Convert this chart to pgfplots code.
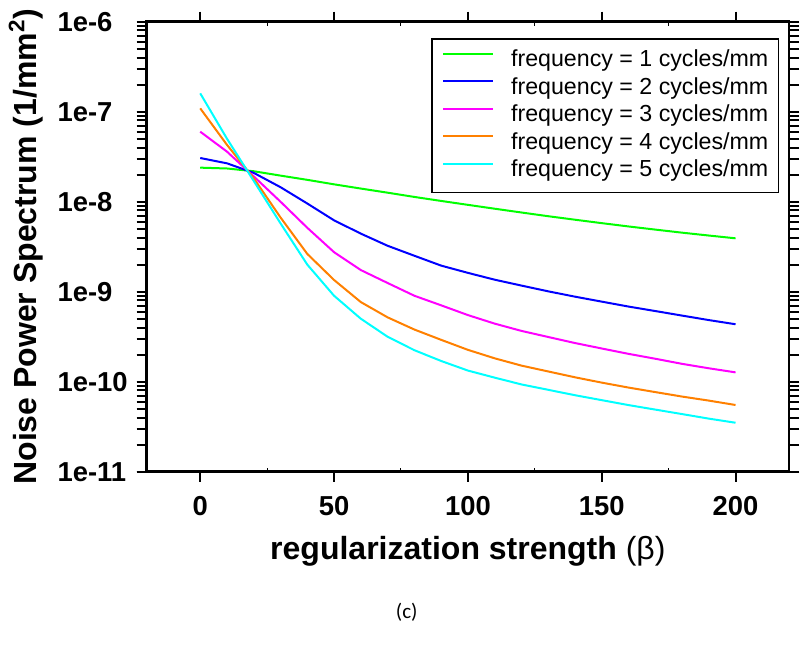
\documentclass[border=0pt]{standalone}
\usepackage{fontspec}
\setmainfont{Liberation Sans}
\newfontfamily\calibri{Carlito}
\usepackage{pgfplots}
\usepackage{pgfplotstable}
\pgfplotsset{compat=1.18}
\definecolor{cgreen}{RGB}{0,255,0}
\definecolor{cblue}{RGB}{0,0,255}
\definecolor{cmag}{RGB}{255,0,255}
\definecolor{corange}{RGB}{255,128,0}
\definecolor{ccyan}{RGB}{0,255,255}

\pgfplotstableread{
x f1 f2 f3 f4 f5
0   2.39e-8 3.06e-8 6.00e-8 1.09e-7 1.60e-7
10  2.34e-8 2.67e-8 3.60e-8 4.28e-8 5.01e-8
20  2.18e-8 2.09e-8 1.91e-8 1.82e-8 1.70e-8
30  1.95e-8 1.45e-8 1.00e-8 6.68e-9 5.75e-9
40  1.75e-8 9.55e-9 5.13e-9 2.63e-9 2.00e-9
50  1.56e-8 6.21e-9 2.75e-9 1.35e-9 9.02e-10
60  1.40e-8 4.42e-9 1.74e-9 7.67e-10 5.01e-10
70  1.26e-8 3.24e-9 1.25e-9 5.19e-10 3.16e-10
80  1.13e-8 2.51e-9 9.02e-10 3.80e-10 2.24e-10
90  1.02e-8 1.95e-9 7.06e-10 2.92e-10 1.70e-10
100 9.23e-9 1.62e-9 5.50e-10 2.26e-10 1.33e-10
110 8.36e-9 1.36e-9 4.42e-10 1.82e-10 1.11e-10
120 7.59e-9 1.17e-9 3.67e-10 1.51e-10 9.33e-11
130 6.90e-9 1.01e-9 3.14e-10 1.30e-10 8.13e-11
140 6.31e-9 8.81e-10 2.69e-10 1.12e-10 7.08e-11
150 5.78e-9 7.76e-10 2.34e-10 9.77e-11 6.24e-11
160 5.31e-9 6.84e-10 2.04e-10 8.61e-11 5.50e-11
170 4.90e-9 6.10e-10 1.80e-10 7.67e-11 4.90e-11
180 4.53e-9 5.43e-10 1.58e-10 6.84e-11 4.37e-11
190 4.21e-9 4.84e-10 1.41e-10 6.17e-11 3.89e-11
200 3.92e-9 4.35e-10 1.27e-10 5.51e-11 3.50e-11
}\nps

\begin{document}
\begin{tikzpicture}
\useasboundingbox (-73.35pt,-91.15pt) rectangle (326.65pt,235.85pt);
\begin{axis}[
  at={(0,0)}, anchor=south west,
  scale only axis, width=321.2pt, height=225pt,
  xmin=-20, xmax=220, ymode=log, ymin=1e-11, ymax=1e-6,
  xtick={0,50,100,150,200}, xticklabels={0,50,100,150,200},
  ytick={1e-11,1e-10,1e-9,1e-8,1e-7,1e-6},
  yticklabels={1e-11,1e-10,1e-9,1e-8,1e-7,1e-6},
  tick align=outside,
  major tick length=5pt, minor tick length=5pt,
  axis line style={line width=1.35pt},
  every tick/.style={black, line width=1pt},
  tick label style={font=\fontsize{13.7}{16}\selectfont\bfseries},
  yticklabel style={text width=36pt, align=left},
  xticklabel style={yshift=-4pt},
  extra x ticks={25,75,125,175}, extra x tick labels={},
  extra x tick style={tick align=inside, major tick length=2pt, every tick/.style={black, line width=0.5pt}},
  xlabel={regularization strength {\mdseries(β)}},
  ylabel={Noise Power Spectrum (1/mm\textsuperscript{2})},
  every axis x label/.style={at={(axis description cs:0.5,-0.19556)}, anchor=base, font=\fontsize{16}{19}\selectfont\bfseries},
  every axis y label/.style={at={(axis description cs:-0.17077,0.5)}, rotate=90, anchor=base, font=\fontsize{16}{19}\selectfont\bfseries},
  legend cell align=left,
  legend style={at={(1,1)}, anchor=north east, xshift=-5pt, yshift=-8.15pt,
    draw=black, line width=0.75pt, inner xsep=5pt, inner ysep=4.9pt,
    font=\fontsize{11.6}{13.75}\selectfont,
    nodes={inner sep=0pt, text height=9pt, text depth=3pt},
    row sep=1.75pt, column sep=0pt},
  legend image code/.code={\draw[#1] (0pt,3.5pt) -- (25pt,3.5pt); \path (33.5pt,0pt);},
]
\addplot[cgreen, line width=1pt] table[x=x, y=f1] {\nps};
\addlegendentry{frequency = 1 cycles/mm}
\addplot[cblue, line width=1pt] table[x=x, y=f2] {\nps};
\addlegendentry{frequency = 2 cycles/mm}
\addplot[cmag, line width=1pt] table[x=x, y=f3] {\nps};
\addlegendentry{frequency = 3 cycles/mm}
\addplot[corange, line width=1pt] table[x=x, y=f4] {\nps};
\addlegendentry{frequency = 4 cycles/mm}
\addplot[ccyan, line width=1pt] table[x=x, y=f5] {\nps};
\addlegendentry{frequency = 5 cycles/mm}
\end{axis}
\node[font=\calibri\fontsize{10.5}{12.6}\selectfont] at (130pt,-70.5pt) {(c)};
\end{tikzpicture}
\end{document}
